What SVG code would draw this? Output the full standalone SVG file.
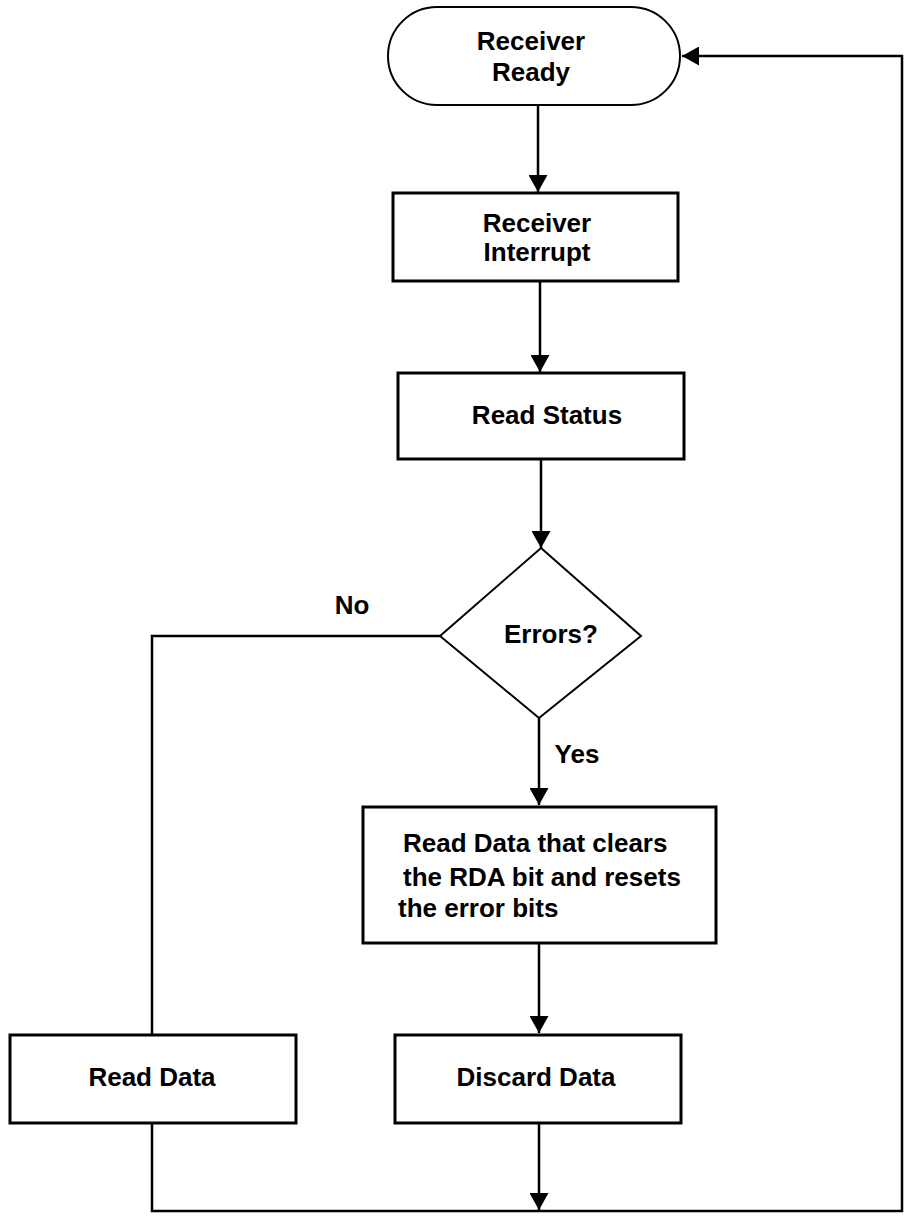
<svg xmlns="http://www.w3.org/2000/svg" width="907" height="1220" viewBox="0 0 907 1220">
<style>
text{font-family:"Liberation Sans",Arial,sans-serif;font-weight:bold;font-size:26px;fill:#000}
.c{text-anchor:middle}
.box{fill:#fff;stroke:#000;stroke-width:3}
.shp{fill:#fff;stroke:#000;stroke-width:2}
.ln{fill:none;stroke:#000;stroke-width:2.5}
</style>
<defs>
<marker id="ah" markerWidth="18" markerHeight="19" refX="17" refY="9.5" orient="auto" markerUnits="userSpaceOnUse">
<path d="M0,0 L17,9.5 L0,19 Z" fill="#000"/>
</marker>
</defs>
<rect width="907" height="1220" fill="#fff"/>
<g id="connectors">
<path class="ln" d="M538,105 V192" marker-end="url(#ah)"/>
<path class="ln" d="M540,281 V372" marker-end="url(#ah)"/>
<path class="ln" d="M541,460 V548" marker-end="url(#ah)"/>
<path class="ln" d="M539,718 V805" marker-end="url(#ah)"/>
<path class="ln" d="M440,636 H152 V1035"/>
<path class="ln" d="M539,943 V1033" marker-end="url(#ah)"/>
<path class="ln" d="M539,1123 V1210" marker-end="url(#ah)"/>
<path class="ln" d="M152,1123 V1211 H902 V56 H682" marker-end="url(#ah)"/>
</g>
<g id="n-ready">
<rect class="shp" x="388" y="7" width="292" height="98" rx="49" ry="49"/>
<text class="c" x="531" y="50">Receiver</text>
<text class="c" x="531" y="81">Ready</text>
</g>
<g id="n-interrupt">
<rect class="box" x="393" y="193" width="285" height="88"/>
<text class="c" x="537" y="232">Receiver</text>
<text class="c" x="537" y="261">Interrupt</text>
</g>
<g id="n-status">
<rect class="box" x="398" y="373" width="286" height="86"/>
<text class="c" x="547" y="424">Read Status</text>
</g>
<g id="n-errors">
<polygon class="shp" points="541,548 641,636 539,718 440,636"/>
<text class="c" x="551" y="643">Errors?</text>
</g>
<text class="c" x="352" y="614">No</text>
<text class="c" x="577" y="763">Yes</text>
<g id="n-readclear">
<rect class="box" x="363" y="807" width="353" height="136"/>
<text x="403" y="852">Read Data that clears</text>
<text x="403" y="886">the RDA bit and resets</text>
<text x="398" y="917">the error bits</text>
</g>
<g id="n-readdata">
<rect class="box" x="10" y="1035" width="286" height="88"/>
<text class="c" x="152" y="1086">Read Data</text>
</g>
<g id="n-discard">
<rect class="box" x="395" y="1035" width="286" height="88"/>
<text class="c" x="536" y="1086">Discard Data</text>
</g>
</svg>
